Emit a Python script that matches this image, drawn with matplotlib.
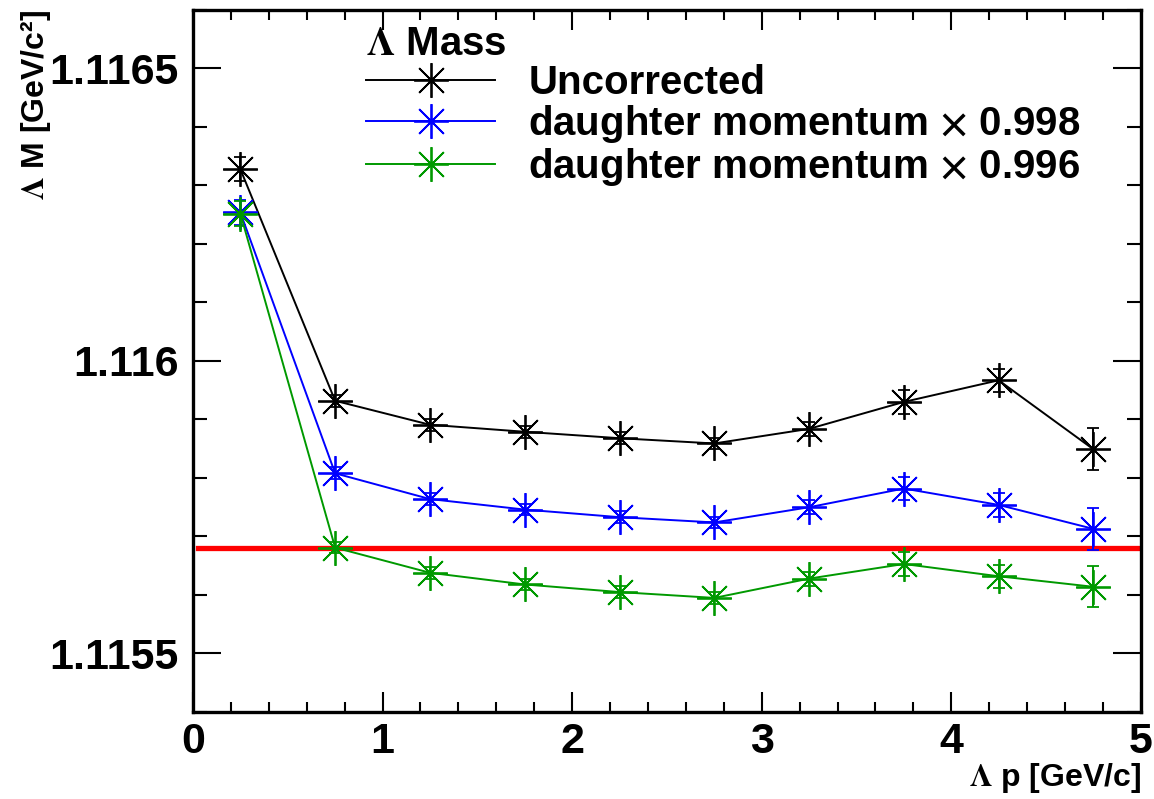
import matplotlib.pyplot as plt
from matplotlib.ticker import AutoMinorLocator

plt.rcParams['font.family'] = ['Liberation Sans', 'DejaVu Sans']
plt.rcParams['font.weight'] = 'bold'
plt.rcParams['axes.labelweight'] = 'bold'
plt.rcParams['mathtext.fontset'] = 'stix'

# Lambda momentum bin centres [GeV/c]
p_bins = [0.25, 0.75, 1.25, 1.75, 2.25, 2.75, 3.25, 3.75, 4.25, 4.75]

# fitted Lambda mass [GeV/c^2]
mass_uncorr = [1.116328, 1.115932, 1.115891, 1.115879, 1.115868,
               1.115859, 1.115884, 1.115930, 1.115967, 1.115849]
err_uncorr = [2.1e-5, 1.0e-5, 1.0e-5, 1.0e-5, 1.0e-5,
              1.0e-5, 1.2e-5, 2.0e-5, 2.0e-5, 3.6e-5]

mass_0998 = [1.116254, 1.115808, 1.115764, 1.115746, 1.115733,
             1.115724, 1.115750, 1.115782, 1.115754, 1.115713]
err_0998 = [2.2e-5, 1.0e-5, 1.0e-5, 1.0e-5, 1.0e-5,
            1.0e-5, 1.2e-5, 2.0e-5, 2.0e-5, 3.6e-5]

mass_0996 = [1.116252, 1.115681, 1.115638, 1.115618, 1.115605,
             1.115595, 1.115628, 1.115653, 1.115632, 1.115614]
err_0996 = [2.1e-5, 1.0e-5, 1.0e-5, 1.0e-5, 1.0e-5,
            1.0e-5, 1.2e-5, 2.0e-5, 2.0e-5, 3.5e-5]

pdg_mass = 1.11568

labels = ['Uncorrected',
          r'daughter momentum $\times$ 0.998',
          r'daughter momentum $\times$ 0.996']
colors = ['black', 'blue', '#009900']

x_ticks = [0, 1, 2, 3, 4, 5]
y_ticks = [1.1155, 1.116, 1.1165]
y_ticklabels = ['1.1155', '1.116', '1.1165']

fig = plt.figure(figsize=(11.54, 7.99), dpi=100)
ax = fig.add_axes([0.1672, 0.1089, 0.8214, 0.8786])

star = (8, 2, 0)
handles = []
for y, e, c in zip([mass_uncorr, mass_0998, mass_0996],
                   [err_uncorr, err_0998, err_0996], colors):
    cont = ax.errorbar(p_bins, y, yerr=e, color=c, lw=1.4, marker=star,
                       markersize=25, mew=1.3, capsize=4.5, capthick=1.4,
                       elinewidth=1.4)
    handles.append(cont.lines[0])

ax.axhline(pdg_mass, xmin=0.005, xmax=0.996, color='red', lw=3.8, zorder=1)

ax.set_xlim(0, 5)
ax.set_ylim(1.1154, 1.1166)
ax.set_xticks(x_ticks)
ax.set_yticks(y_ticks)
ax.set_yticklabels(y_ticklabels)
ax.xaxis.set_minor_locator(AutoMinorLocator(5))
ax.yaxis.set_minor_locator(AutoMinorLocator(5))

for s in ax.spines.values():
    s.set_linewidth(2.4)
ax.tick_params(which='both', direction='in', top=True, right=True, width=1.5,
               labelsize=31)
ax.tick_params(axis='x', which='major', length=14.5, pad=7)
ax.tick_params(axis='x', which='minor', length=7.2)
ax.tick_params(axis='y', which='major', length=20, pad=10)
ax.tick_params(axis='y', which='minor', length=10)

ax.set_xlabel(r'$\Lambda$ p [GeV/c]', fontsize=23, fontweight='bold', loc='right')
ax.xaxis.set_label_coords(1.0, -0.07)
ax.set_ylabel(r'$\Lambda$ M [GeV/c²]', fontsize=23, fontweight='bold', loc='top')
ax.yaxis.set_label_coords(-0.148, 1.0)

leg = ax.legend(handles, labels, title=r'$\Lambda$ Mass', loc='upper left',
                bbox_to_anchor=(0.183, 0.978), frameon=False, numpoints=1,
                fontsize=29, handlelength=3.2, handletextpad=0.82,
                labelspacing=0.02, borderpad=0, borderaxespad=0,
                alignment='left')
leg.get_title().set_fontsize(29)
leg.get_title().set_fontweight('bold')

fig.savefig('out.png', dpi=100)
